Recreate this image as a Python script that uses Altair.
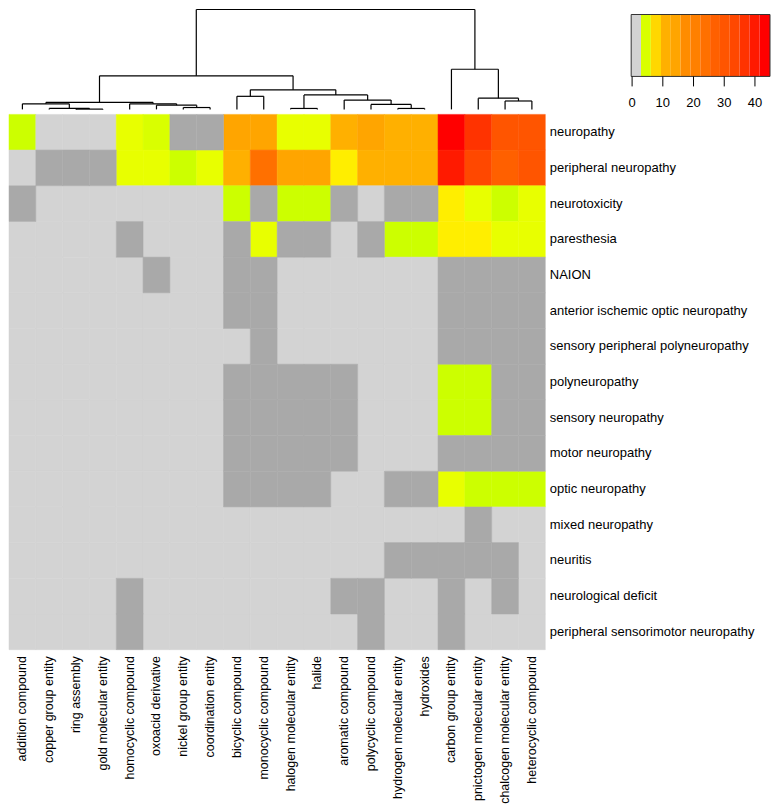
import altair as alt
import pandas as pd

# ---------------- data ----------------
columns = ["addition compound", "copper group entity", "ring assembly", "gold molecular entity",
           "homocyclic compound", "oxoacid derivative", "nickel group entity", "coordination entity",
           "bicyclic compound", "monocyclic compound", "halogen molecular entity", "halide",
           "aromatic compound", "polycyclic compound", "hydrogen molecular entity", "hydroxides",
           "carbon group entity", "pnictogen molecular entity", "chalcogen molecular entity",
           "heterocyclic compound"]

rows = ["neuropathy", "peripheral neuropathy", "neurotoxicity", "paresthesia", "NAION",
        "anterior ischemic optic neuropathy", "sensory peripheral polyneuropathy", "polyneuropathy",
        "sensory neuropathy", "motor neuropathy", "optic neuropathy", "mixed neuropathy", "neuritis",
        "neurological deficit", "peripheral sensorimotor neuropathy"]

N = None  # not available (dark grey cells)
values = [
    [3.5, 0, 0, 0, 5.5, 4.5, N, N, 14, 14, 5.5, 5.5, 11, 14, 11, 11, 43, 36, 30, 30],
    [0, N, N, N, 5.5, 5.5, 3.5, 5.5, 11, 24, 14, 14, 7, 11, 11, 11, 40, 33, 27, 30],
    [N, 0, 0, 0, 0, 0, 0, 0, 3.5, N, 3.5, 3.5, N, 0, N, N, 7, 5.5, 3.5, 5.5],
    [0, 0, 0, 0, N, 0, 0, 0, N, 5.5, N, N, 0, N, 3.5, 3.5, 7, 7, 5.5, 5.5],
    [0, 0, 0, 0, 0, N, 0, 0, N, N, 0, 0, 0, 0, 0, 0, N, N, N, N],
    [0, 0, 0, 0, 0, 0, 0, 0, N, N, 0, 0, 0, 0, 0, 0, N, N, N, N],
    [0, 0, 0, 0, 0, 0, 0, 0, 0, N, 0, 0, 0, 0, 0, 0, N, N, N, N],
    [0, 0, 0, 0, 0, 0, 0, 0, N, N, N, N, N, 0, 0, 0, 3.5, 3.5, N, N],
    [0, 0, 0, 0, 0, 0, 0, 0, N, N, N, N, N, 0, 0, 0, 3.5, 3.5, N, N],
    [0, 0, 0, 0, 0, 0, 0, 0, N, N, N, N, N, 0, 0, 0, N, N, N, N],
    [0, 0, 0, 0, 0, 0, 0, 0, N, N, N, N, 0, 0, N, N, 5.5, 3.5, 3.5, 3.5],
    [0, 0, 0, 0, 0, 0, 0, 0, 0, 0, 0, 0, 0, 0, 0, 0, 0, N, 0, 0],
    [0, 0, 0, 0, 0, 0, 0, 0, 0, 0, 0, 0, 0, 0, N, N, N, N, N, 0],
    [0, 0, 0, 0, N, 0, 0, 0, 0, 0, 0, 0, N, N, 0, 0, N, 0, N, 0],
    [0, 0, 0, 0, N, 0, 0, 0, 0, 0, 0, 0, 0, N, 0, 0, N, 0, 0, 0],
]

# colour thresholds and colours
thresholds = [2.9, 4, 5, 6.1, 7.5, 9.4, 12.6, 15.8, 19, 22.2, 25.4, 28.6, 31.8, 35, 38.2, 41.5]
colors = ["#d3d3d3", "#ccff00", "#d9ff00", "#e8ff00", "#ffee00", "#ffd700", "#ffb000", "#ffa500",
          "#ff8c00", "#ff8000", "#ff7000", "#ff6000", "#ff5500", "#ff4800", "#ff3300", "#ff1a00",
          "#ff0000"]
na_color = "#a9a9a9"

# colour key bins
legend_breaks = [-0.3, 2.9, 6.1, 9.4, 12.6, 15.8, 19.0, 22.2, 25.4, 28.6, 31.8, 35.0, 38.2, 41.5, 44.9]
legend_ticks = [0, 10, 20, 30, 40]

# column dendrogram: merges (leaf ids 0..19, internal nodes 20..)
merge_left = [2, 1, 0, 6, 5, 4, 22, 8, 10, 14, 13, 12, 28, 27, 26, 18, 17, 16, 34]
merge_right = [3, 20, 21, 7, 23, 24, 25, 9, 11, 15, 29, 30, 31, 32, 33, 19, 35, 36, 37]
merge_height = [0.3, 1, 6, 2, 4.5, 6, 7.5, 14, 1, 1, 5.3, 10, 15.5, 21, 36, 9, 12, 43, 107]

FONT = "Liberation Sans"

# ---------------- tables ----------------
val_recs, na_recs = [], []
for r, rowvals in zip(rows, values):
    for c, v in zip(columns, rowvals):
        if v is None:
            na_recs.append({"row": r, "col": c})
        else:
            val_recs.append({"row": r, "col": c, "v": v})
val_df = pd.DataFrame(val_recs)
na_df = pd.DataFrame(na_recs)

pos = {i: i + 0.5 for i in range(len(columns))}
hgt = {i: 0.0 for i in range(len(columns))}
segs = []
for k, (a, b, h) in enumerate(zip(merge_left, merge_right, merge_height)):
    node = len(columns) + k
    xa, xb = pos[a], pos[b]
    segs.append({"x": xa, "x2": xb, "y": h, "y2": h})
    segs.append({"x": xa, "x2": xa, "y": hgt[a], "y2": h})
    segs.append({"x": xb, "x2": xb, "y": hgt[b], "y2": h})
    pos[node] = (xa + xb) / 2
    hgt[node] = h
seg_df = pd.DataFrame(segs)

leg_df = pd.DataFrame({
    "lo": legend_breaks[:-1],
    "hi": legend_breaks[1:],
    "mid": [(a + b) / 2 for a, b in zip(legend_breaks[:-1], legend_breaks[1:])],
})
box_df = pd.DataFrame({"lo": [legend_breaks[0]], "hi": [legend_breaks[-1]]})
tick_df = pd.DataFrame({"t": legend_ticks, "label": [str(t) for t in legend_ticks]})

color_scale = alt.Scale(type="threshold", domain=thresholds, range=colors)

HEAT_W = 537
HEAT_H = 536
DENDRO_H = 100

# ---------------- dendrogram ----------------
dendro = alt.Chart(seg_df).mark_rule(color="black", strokeWidth=1.2).encode(
    x=alt.X("x:Q", scale=alt.Scale(domain=[0, len(columns)], nice=False, zero=False), axis=None),
    x2="x2:Q",
    y=alt.Y("y:Q", scale=alt.Scale(domain=[0, max(merge_height)], nice=False), axis=None),
    y2="y2:Q",
)

# ---------------- colour key (placed in the dendrogram panel, own x scale) ----------------
leg_scale = alt.Scale(domain=[legend_breaks[0], legend_breaks[-1]], range=[623, 762], nice=False, zero=False)
KEY_TOP, KEY_BOT = 5, 67
leg_bins = alt.Chart(leg_df).mark_rect().encode(
    x=alt.X("lo:Q", scale=leg_scale, axis=None), x2="hi:Q",
    y=alt.value(KEY_TOP), y2=alt.value(KEY_BOT),
    color=alt.Color("mid:Q", scale=color_scale, legend=None),
)
leg_box = alt.Chart(box_df).mark_rect(filled=False, stroke="#333333", strokeWidth=1).encode(
    x=alt.X("lo:Q", scale=leg_scale, axis=None), x2="hi:Q",
    y=alt.value(KEY_TOP), y2=alt.value(KEY_BOT),
)
leg_ticks = alt.Chart(tick_df).mark_rule(color="black", strokeWidth=1).encode(
    x=alt.X("t:Q", scale=leg_scale, axis=None),
    y=alt.value(KEY_BOT), y2=alt.value(KEY_BOT + 10),
)
leg_labels = alt.Chart(tick_df).mark_text(font=FONT, fontSize=13, color="black",
                                          baseline="middle", align="center").encode(
    x=alt.X("t:Q", scale=leg_scale, axis=None),
    y=alt.value(KEY_BOT + 27),
    text="label:N",
)

top = alt.layer(dendro, leg_bins, leg_box, leg_ticks, leg_labels).resolve_scale(
    x="independent"
).properties(width=HEAT_W, height=DENDRO_H)

# ---------------- heatmap ----------------
xenc = alt.X("col:N", sort=columns,
             scale=alt.Scale(domain=columns, paddingInner=0, paddingOuter=0),
             axis=alt.Axis(title=None, orient="bottom", labelAngle=270, ticks=False, domain=False,
                           labelFontSize=12.5, labelFont=FONT, labelColor="black", labelPadding=6,
                           labelLimit=0, labelAlign="right", labelBaseline="middle"))
yenc = alt.Y("row:N", sort=rows,
             scale=alt.Scale(domain=rows, paddingInner=0, paddingOuter=0),
             axis=alt.Axis(title=None, orient="right", ticks=False, domain=False,
                           labelFontSize=13, labelFont=FONT, labelColor="black", labelPadding=4,
                           labelLimit=0))
heat_val = alt.Chart(val_df).mark_rect(strokeWidth=0.5).encode(
    x=xenc, y=yenc,
    color=alt.Color("v:Q", scale=color_scale, legend=None),
    stroke=alt.Stroke("v:Q", scale=color_scale, legend=None),
)
heat_na = alt.Chart(na_df).mark_rect(color=na_color, stroke=na_color, strokeWidth=0.5).encode(x=xenc, y=yenc)
heat = alt.layer(heat_val, heat_na).properties(width=HEAT_W, height=HEAT_H)

chart = alt.vconcat(top, heat, spacing=3).properties(
    padding=0
).configure_view(stroke=None)

chart.save("out.html", embed_options={"renderer": "svg", "actions": False})
